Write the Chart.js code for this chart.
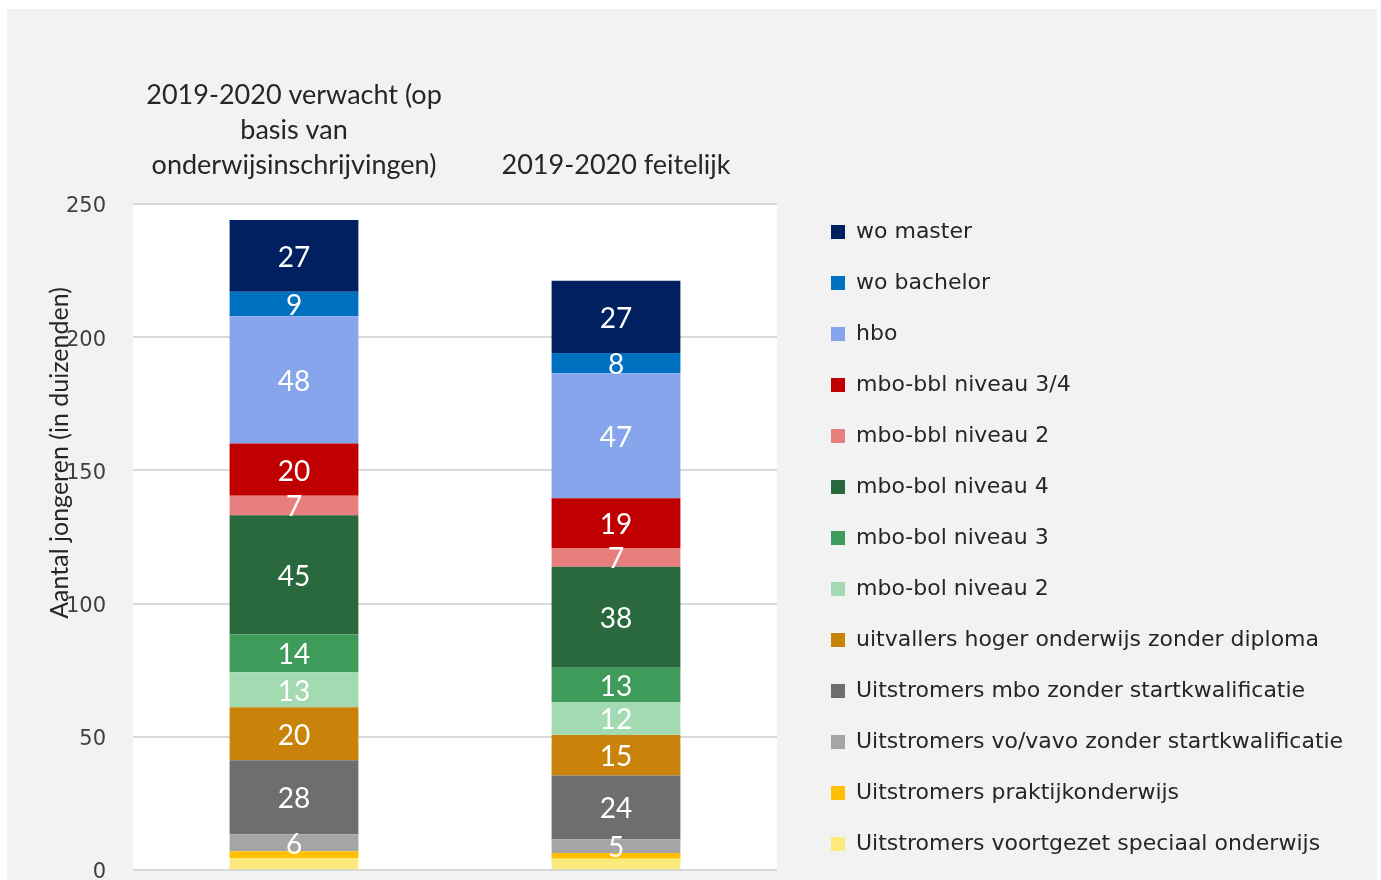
<!DOCTYPE html>
<html>
<head>
<meta charset="utf-8">
<title>Aantal jongeren 2019-2020</title>
<script src="https://cdn.jsdelivr.net/npm/chart.js@4.4.1/dist/chart.umd.min.js"></script>
<style>
    html, body { margin: 0; padding: 0; background: #ffffff; }
    #wrap { position: absolute; left: 7px; top: 9px; width: 1370px; height: 871px; background: #f2f2f2; }
</style>
</head>
<body>
<div id="wrap"><canvas id="chart" width="1370" height="871"></canvas></div>
<script>
// categories (x axis, drawn at the top)
var categories = [
    ['2019-2020 verwacht (op', 'basis van', 'onderwijsinschrijvingen)'],
    '2019-2020 feitelijk'
];

// series, bottom of the stack first (x 1000)
var vsoValues = [4.5, 4.2];
var praktijkValues = [2.5, 2.2];
var voVavoValues = [6.4, 5.1];
var mboZonderValues = [27.8, 24.0];
var uitvallersValues = [19.9, 15.2];
var bol2Values = [13.1, 12.4];
var bol3Values = [14.2, 12.8];
var bol4Values = [44.8, 37.9];
var bbl2Values = [7.3, 7.1];
var bbl34Values = [19.6, 18.6];
var hboValues = [47.8, 47.0];
var woBachelorValues = [9.2, 7.6];
var woMasterValues = [26.9, 27.1];

var yTicks = [0, 50, 100, 150, 200, 250];
var yTitleText = 'Aantal jongeren (in duizenden)';

// segments without a value label
var unlabeled = ['Uitstromers voortgezet speciaal onderwijs', 'Uitstromers praktijkonderwijs'];

var series = [
    { label: 'Uitstromers voortgezet speciaal onderwijs', data: vsoValues, color: '#fdea7c' },
    { label: 'Uitstromers praktijkonderwijs', data: praktijkValues, color: '#ffc000' },
    { label: 'Uitstromers vo/vavo zonder startkwalificatie', data: voVavoValues, color: '#a5a5a5' },
    { label: 'Uitstromers mbo zonder startkwalificatie', data: mboZonderValues, color: '#6e6e6e' },
    { label: 'uitvallers hoger onderwijs zonder diploma', data: uitvallersValues, color: '#c9820a' },
    { label: 'mbo-bol niveau 2', data: bol2Values, color: '#a3dab2' },
    { label: 'mbo-bol niveau 3', data: bol3Values, color: '#3f9b5a' },
    { label: 'mbo-bol niveau 4', data: bol4Values, color: '#2a683d' },
    { label: 'mbo-bbl niveau 2', data: bbl2Values, color: '#e67f7e' },
    { label: 'mbo-bbl niveau 3/4', data: bbl34Values, color: '#c00000' },
    { label: 'hbo', data: hboValues, color: '#86a5ec' },
    { label: 'wo bachelor', data: woBachelorValues, color: '#0070c0' },
    { label: 'wo master', data: woMasterValues, color: '#002060' }
];

var datasets = series.map(function (s) {
    return {
        label: s.label,
        data: s.data,
        backgroundColor: s.color,
        borderWidth: 0,
        categoryPercentage: 0.4,
        barPercentage: 1
    };
});

// white plot area on the grey chart background
var plotBackground = {
    id: 'plotBackground',
    beforeDraw: function (chart) {
        var a = chart.chartArea;
        var ctx = chart.ctx;
        ctx.save();
        ctx.fillStyle = '#ffffff';
        ctx.fillRect(a.left, a.top, a.right - a.left, a.bottom - a.top);
        ctx.restore();
    }
};

// value in the middle of every segment
var segmentLabels = {
    id: 'segmentLabels',
    afterDatasetsDraw: function (chart) {
        var ctx = chart.ctx;
        ctx.save();
        ctx.fillStyle = '#ffffff';
        ctx.font = '28px Lato';
        ctx.textAlign = 'center';
        ctx.textBaseline = 'middle';
        chart.data.datasets.forEach(function (ds, i) {
            if (unlabeled.indexOf(ds.label) !== -1) return;
            chart.getDatasetMeta(i).data.forEach(function (bar, j) {
                var p = bar.getProps(['x', 'y', 'base'], true);
                ctx.fillText(Math.round(ds.data[j]), p.x, (p.y + p.base) / 2 + 2);
            });
        });
        ctx.restore();
    }
};

// axis title sits over the tick labels, like the original
var yTitle = {
    id: 'yTitle',
    afterDraw: function (chart) {
        var a = chart.chartArea;
        var ctx = chart.ctx;
        ctx.save();
        ctx.translate(a.left - 73, a.top + 249);
        ctx.rotate(-Math.PI / 2);
        ctx.fillStyle = '#262626';
        ctx.font = '25px Lato';
        ctx.textAlign = 'center';
        ctx.textBaseline = 'middle';
        ctx.fillText(yTitleText, 0, 0);
        ctx.restore();
    }
};

// fixed legend width so the plot keeps its place
var legendWidth = {
    id: 'legendWidth',
    beforeInit: function (chart) {
        var fit = chart.legend.fit;
        chart.legend.fit = function () {
            fit.call(this);
            this.width = 575;
        };
    }
};

var ctx = document.getElementById('chart').getContext('2d');
var chart = new Chart(ctx, {
    type: 'bar',
    data: {
        labels: categories,
        datasets: datasets
    },
    options: {
        responsive: false,
        animation: false,
        layout: {
            padding: { top: 67, right: 0, bottom: -4, left: 0 }
        },
        scales: {
            x: {
                position: 'top',
                stacked: true,
                afterFit: function (scale) { scale.height = 128; },
                grid: { display: false, drawTicks: false },
                border: { display: false },
                ticks: {
                    color: '#262626',
                    font: { family: 'Lato', size: 27, lineHeight: 1.3 },
                    padding: 21,
                    maxRotation: 0,
                    autoSkip: false
                }
            },
            y: {
                stacked: true,
                min: 0,
                max: 250,
                afterFit: function (scale) {
                    scale.width = 126;
                    scale.paddingBottom = 10;
                },
                afterBuildTicks: function (scale) {
                    scale.ticks = yTicks.map(function (v) { return { value: v }; });
                },
                grid: { color: '#d9d9d9', lineWidth: 2, drawTicks: false },
                border: { display: false },
                ticks: {
                    color: '#404040',
                    font: { family: 'DejaVu Sans', size: 21, lineHeight: 1 },
                    padding: 27,
                    labelOffset: 3
                }
            },
            y2: {
                position: 'right',
                display: true,
                afterFit: function (scale) { scale.width = 25; },
                grid: { display: false, drawTicks: false },
                border: { display: false },
                ticks: { display: false }
            }
        },
        plugins: {
            legend: {
                position: 'right',
                align: 'end',
                reverse: true,
                labels: {
                    color: '#262626',
                    font: { family: 'DejaVu Sans', size: 22 },
                    boxWidth: 14,
                    boxHeight: 14,
                    padding: 29
                }
            },
            tooltip: { enabled: false }
        }
    },
    plugins: [plotBackground, segmentLabels, yTitle, legendWidth]
});
</script>
</body>
</html>
